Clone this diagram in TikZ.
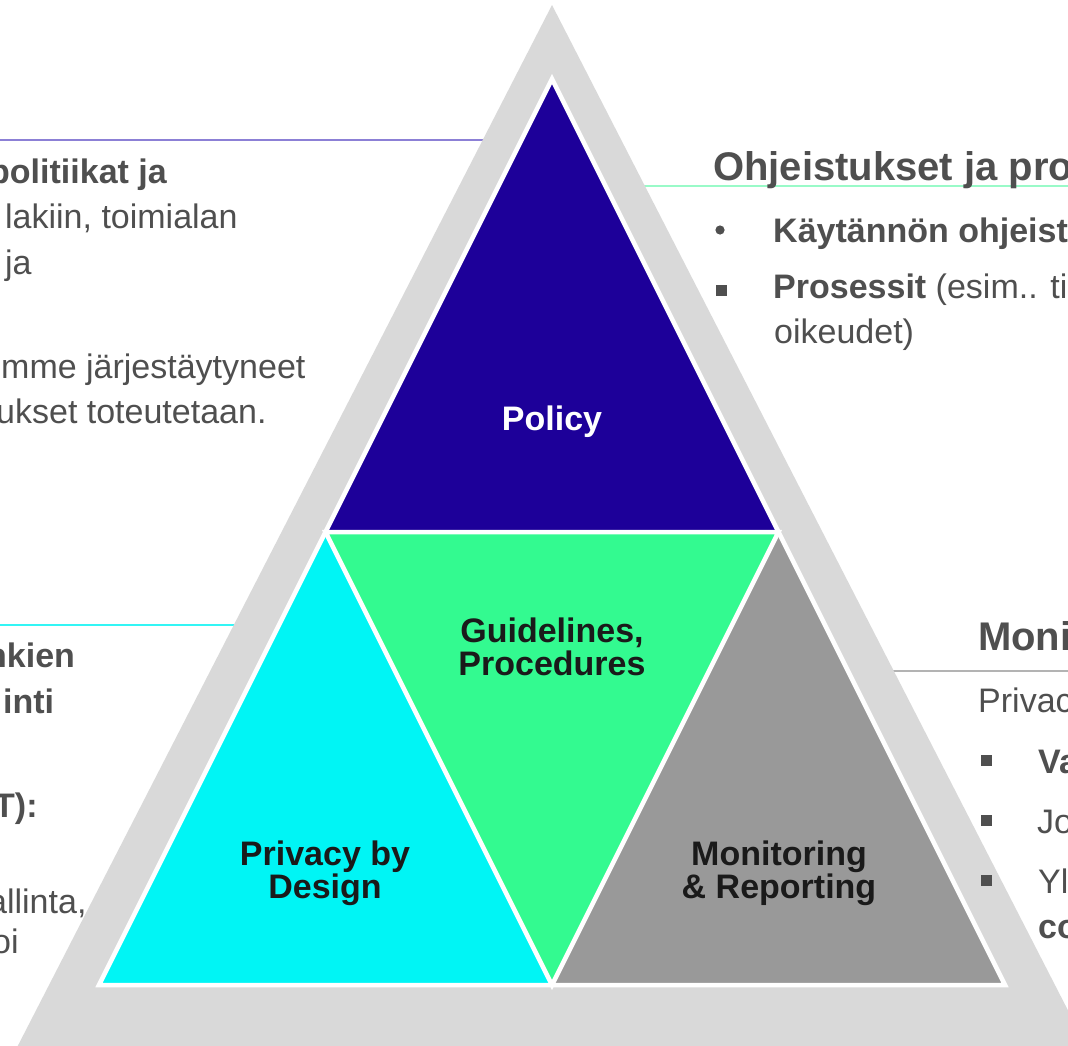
\documentclass[tikz,border=0pt]{standalone}
\usepackage{fontspec}
\setmainfont{Liberation Sans}
\definecolor{outergray}{HTML}{D9D9D9}
\definecolor{policyblue}{HTML}{1D0099}
\definecolor{guidegreen}{HTML}{33FA90}
\definecolor{designcyan}{HTML}{00F5F5}
\definecolor{monitorgray}{HTML}{999999}
\definecolor{bodytxt}{HTML}{4F4F4F}
\definecolor{labeltxt}{HTML}{1A1A1A}
\definecolor{rulepurple}{HTML}{8C80D6}
\definecolor{rulegreen}{HTML}{99FAC8}
\definecolor{rulecyan}{HTML}{33F5F5}
\definecolor{rulegray}{HTML}{B3B3B3}
\begin{document}
\begin{tikzpicture}[x=1pt,y=-1pt,
  side/.style={anchor=base west, inner sep=0pt, text=bodytxt, font=\fontsize{34}{40}\selectfont},
  sidebold/.style={side, font=\fontsize{34}{40}\selectfont\bfseries},
  sidehead/.style={side, font=\fontsize{40}{48}\selectfont\bfseries},
  tri label/.style={anchor=base, inner sep=0pt, text=labeltxt, font=\fontsize{34}{33}\selectfont\bfseries},
  sqbullet/.style={fill=bodytxt, draw=none, inner sep=0pt, minimum size=11pt},
  rule/.style={line width=1.6pt}
]
\useasboundingbox (0,0) rectangle (1068,1045);
\clip (0,0) rectangle (1068,1045);

% horizontal rules behind the pyramid
\coordinate (r1a) at (0,140);   \coordinate (r1b) at (552,140);
\coordinate (r2a) at (552,186); \coordinate (r2b) at (1068,186);
\coordinate (r3a) at (0,625);   \coordinate (r3b) at (552,625);
\coordinate (r4a) at (552,671); \coordinate (r4b) at (1068,671);
\draw[rule, rulepurple] (r1a) -- (r1b);
\draw[rule, rulegreen]  (r2a) -- (r2b);
\draw[rule, rulecyan]   (r3a) -- (r3b);
\draw[rule, rulegray]   (r4a) -- (r4b);

% outer pyramid
\coordinate (O1) at (552,5);
\coordinate (O2) at (-10,1100);
\coordinate (O3) at (1114,1100);
\fill[outergray] (O1) -- (O2) -- (O3) -- cycle;

% inner pyramid split into four triangles
\coordinate (A)  at (552,79);
\coordinate (BL) at (99,985);
\coordinate (BR) at (1005,985);
\coordinate (ML) at (325.5,532);
\coordinate (MR) at (778.5,532);
\coordinate (MB) at (552,985);
\fill[policyblue]  (A) -- (ML) -- (MR) -- cycle;
\fill[guidegreen]  (ML) -- (MR) -- (MB) -- cycle;
\fill[designcyan]  (ML) -- (BL) -- (MB) -- cycle;
\fill[monitorgray] (MR) -- (MB) -- (BR) -- cycle;
\draw[white, line width=4.5pt, line join=miter] (A) -- (BL) -- (BR) -- cycle;
\draw[white, line width=4.5pt, line join=miter] (ML) -- (MR) -- (MB) -- cycle;

% triangle labels
\node[tri label, text=white] (pol) at (552,430) {Policy};
\node[tri label] (gl1) at (552,642) {Guidelines,};
\node[tri label] (gl2) at (552,675) {Procedures};
\node[tri label] (pd1) at (325,865) {Privacy by};
\node[tri label] (pd2) at (325,898) {Design};
\node[tri label] (mr1) at (779,865) {Monitoring};
\node[tri label] (mr2) at (779,898) {\& Reporting};

% left upper text block
\node[sidebold] (lt1) at (-11,183) {politiikat ja};
\node[side] (lt2) at (5,228) {lakiin, toimialan};
\node[side] (lt3) at (5,274) {ja};
\node[side] (lt4) at (1,378) {mme järjestäytyneet};
\node[side] (lt5) at (-4,423) {ukset toteutetaan.};

% left lower text block
\node[sidebold] (lb1) at (-14,667) {nkien};
\node[sidebold] (lb2) at (3,713) {inti};
\node[sidebold] (lb3) at (-6,817) {T):};
\node[side] (lb4) at (-12,913) {allinta,};
\node[side] (lb5) at (-8,953) {oi};

% right upper text block
\node[sidehead] (rt0) at (713,180) {Ohjeistukset ja pro};
\fill[bodytxt] (720,230) circle (4.6pt);
\node[sidebold] (rt1) at (773,242) {Käytännön ohjeist};
\node[sqbullet] (sq1) at (721,290) {};
\node[side] (rt2) at (773,298) {\textbf{Prosessit} (esim.. ti};
\node[side] (rt3) at (774,343) {oikeudet)};

% right lower text block
\node[sidehead] (rb0) at (978,650) {Moni};
\node[side] (rb1) at (978,712) {Privac};
\node[sqbullet] (sq2) at (986,760) {};
\node[sqbullet] (sq3) at (986,820) {};
\node[sqbullet] (sq4) at (986,880) {};
\node[sidebold] (rb2) at (1038,773) {Va};
\node[side] (rb3) at (1037,833) {Jo};
\node[side] (rb4) at (1038,893) {Yl};
\node[sidebold] (rb5) at (1038,938) {co};
\end{tikzpicture}
\end{document}
